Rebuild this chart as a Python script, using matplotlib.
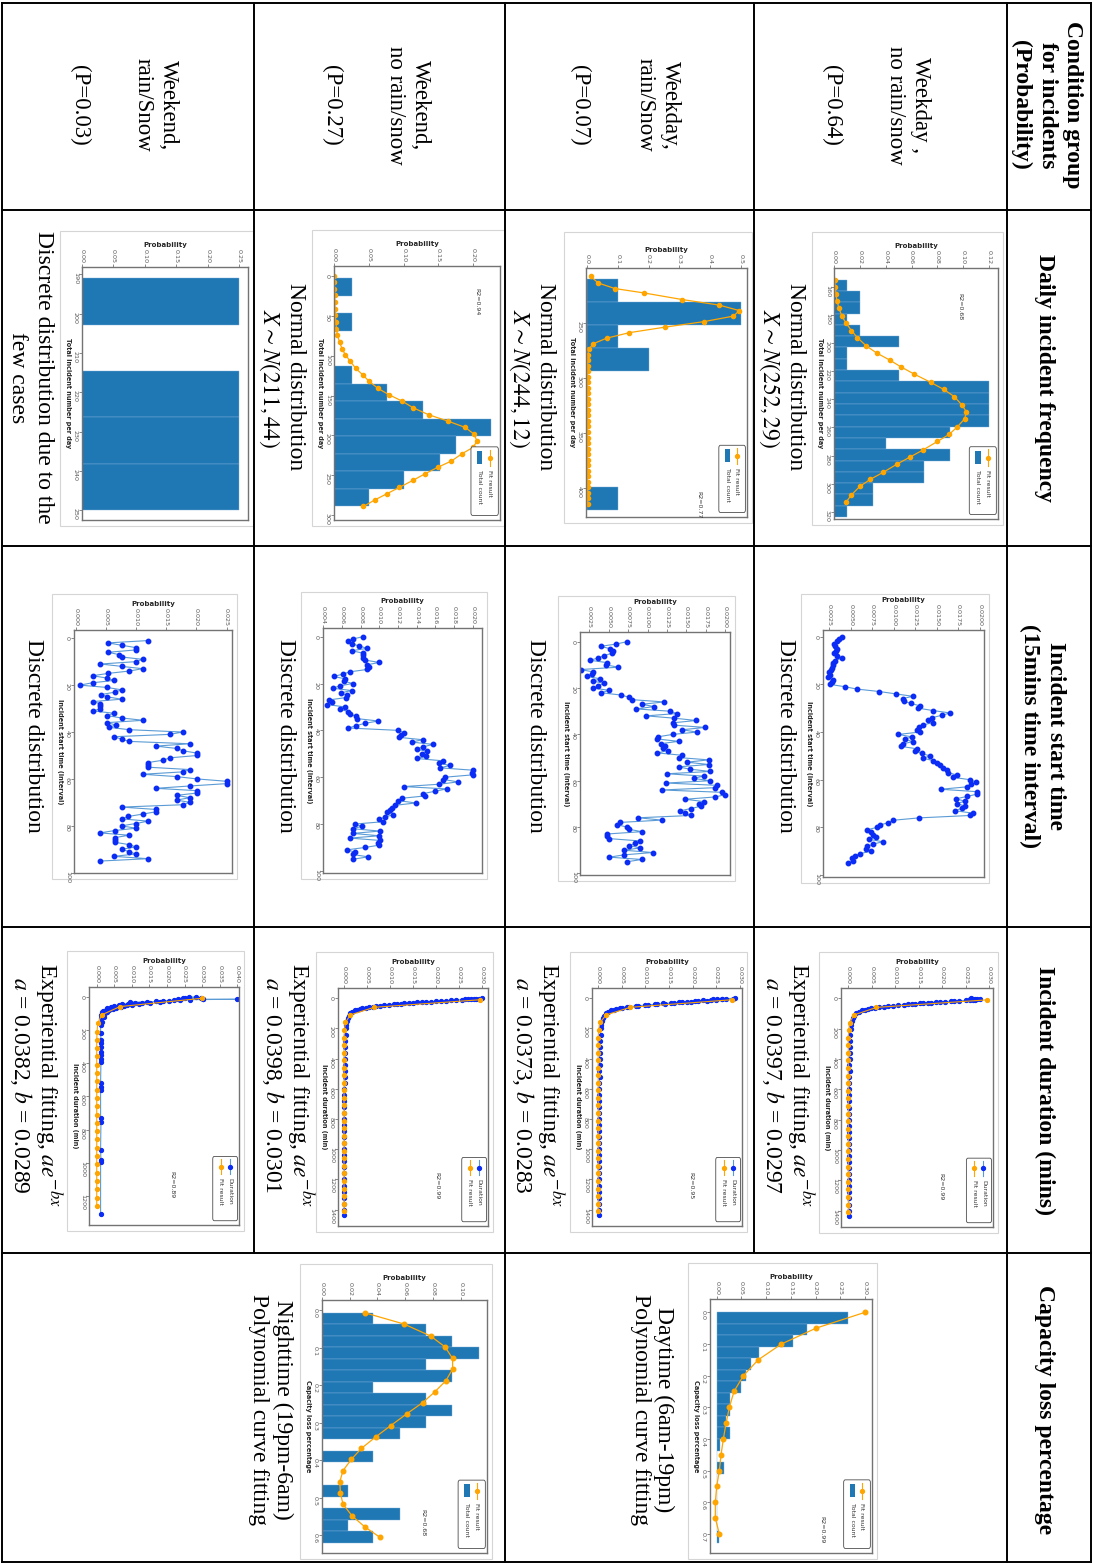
import numpy as np
import matplotlib
matplotlib.use("Agg")
import matplotlib.pyplot as plt
from matplotlib.patches import Rectangle, FancyBboxPatch
from matplotlib.lines import Line2D

W, H = 1093, 1564
SERIF = ["Liberation Serif", "DejaVu Serif"]
plt.rcParams["mathtext.fontset"] = "stix"

BLUE = "#1f77b4"
ORANGE = "#ffa500"
DOT = "#0b2cf5"
LINEBLUE = "#5b9bd5"

# ---------------- table text ----------------
cond_line1 = ["Weekday ,", "Weekday,", "Weekend,", "Weekend,"]
cond_line2 = ["no rain/snow", "rain/Snow", "no rain/snow", "rain/Snow"]
cond_prob = ["(P=0.64)", "(P=0.07)", "(P=0.27)", "(P=0.03)"]
daily_caption1 = ["Normal distribution", "Normal distribution", "Normal distribution",
                  "Discrete distribution due to the"]
daily_caption2 = [r"$X{\sim}N(252, 29)$", r"$X{\sim}N(244, 12)$", r"$X{\sim}N(211, 44)$", "few cases"]
dur_a = ["0.0397", "0.0373", "0.0398", "0.0382"]
dur_b = ["0.0297", "0.0283", "0.0301", "0.0289"]

# ---------------- daily incident frequency ----------------
d1_left = [154.8, 162.85, 170.9, 178.95, 187.0, 195.05, 203.1, 211.15, 219.2, 227.25, 235.3,
           243.35, 251.4, 259.45, 267.5, 275.55, 283.6, 291.65, 299.7, 307.75, 315.8]
d1_prob = [0.01, 0.02, 0.02, 0.01, 0.02, 0.05, 0.01, 0.01, 0.05, 0.12, 0.12,
           0.12, 0.12, 0.09, 0.04, 0.09, 0.07, 0.07, 0.03, 0.03, 0.01]
f1_x = [155, 160, 165, 170, 175, 181, 186, 191, 196, 202, 207, 212, 217, 222, 228, 233,
        238, 244, 249, 254, 260, 265, 270, 276, 281, 286, 292, 297, 302, 308, 313]
f1_p = [0.0005, 0.001, 0.0014, 0.0023, 0.0038, 0.0062, 0.0095, 0.0135, 0.018, 0.025, 0.033,
        0.043, 0.052, 0.062, 0.075, 0.085, 0.093, 0.099, 0.1025, 0.101, 0.095, 0.089, 0.080,
        0.069, 0.059, 0.049, 0.038, 0.028, 0.020, 0.0135, 0.0095]

d2_left = [210, 231, 252, 273, 294, 315, 336, 357, 378, 399]
d2_prob = [0.1, 0.5, 0.1, 0.2, 0, 0, 0, 0, 0, 0.1]
f2_x = [208, 214, 219, 223, 229, 234, 239, 244, 249, 254, 259, 264, 269, 274, 279, 284, 289,
        294, 299, 304, 309, 314, 319, 324, 329, 334, 339, 344, 349, 354, 359, 364, 369, 374,
        379, 384, 389, 394, 399, 404, 409, 414]
f2_p = [0.011, 0.036, 0.09, 0.185, 0.31, 0.43, 0.496, 0.476, 0.38, 0.253, 0.137, 0.063, 0.02,
        0.005, 0.002, 0.001, 0.001, 0.001, 0.001, 0.001, 0.001, 0.001, 0.001, 0.001, 0.001,
        0.001, 0.001, 0.001, 0.001, 0.001, 0.001, 0.001, 0.001, 0.001, 0.001, 0.001, 0.001,
        0.001, 0.001, 0.001, 0.001, 0.001]

d3_left = [3, 25, 47, 69, 91, 113, 135, 157, 179, 201, 223, 245, 267]
d3_prob = [0.025, 0, 0.025, 0, 0, 0.025, 0.076, 0.128, 0.226, 0.176, 0.152, 0.10, 0.05]
f3_x = [0, 8, 16, 24, 33, 41, 49, 58, 66, 74, 83, 91, 99, 107, 116, 124, 132, 141, 149, 157,
        165, 174, 182, 190, 198, 207, 215, 223, 232, 240, 248, 256, 265, 273, 281, 289]
f3_p = [0.0, 0.0, 0.0, 0.0005, 0.0007, 0.001, 0.0015, 0.002, 0.003, 0.0045, 0.0075, 0.011,
        0.016, 0.023, 0.031, 0.041, 0.050, 0.063, 0.079, 0.098, 0.113, 0.136, 0.164, 0.189,
        0.201, 0.206, 0.200, 0.184, 0.169, 0.149, 0.131, 0.114, 0.094, 0.076, 0.058, 0.042]

d4_left = [191, 202.8, 214.6, 226.4, 238.2]
d4_prob = [0.25, 0, 0.25, 0.25, 0.25]

# ---------------- incident start time (values in 1e-4) ----------------
st1 = [39.3, 36.6, 34.3, 30.4, 31.6, 33.5, 32.7, 30.4, 34.3, 39.3,
       31.6, 28.9, 28.9, 27.7, 26.5, 25.0, 25.8, 23.8, 28.9, 27.7,
       25.8, 43.2, 57.5, 83.1, 102.4, 121.8, 110.2, 111.7, 119.5, 130.3,
       128.4, 145.8, 165.2, 155.5, 143.9, 140.0, 145.8, 134.2, 129.5, 126.4,
       130.3, 105.1, 120.6, 112.9, 121.8, 110.2, 107.8, 126.4, 124.5, 132.2,
       141.9, 134.2, 145.8, 149.7, 153.5, 157.4, 161.3, 163.2, 172.9, 169.0,
       188.4, 195.4, 189.2, 184.5, 154.3, 196.1, 196.9, 185.3, 172.1, 182.6,
       172.9, 182.6, 178.7, 170.9, 191.5, 188.4, 129.5, 99.3, 93.5, 83.8,
       80.0, 69.1, 73.0, 75.3, 79.2, 71.5, 86.9, 76.1, 69.1, 67.6,
       73.0, 60.6, 54.8, 50.9, 52.9, 47.1]
st2 = [73.2, 59.4, 39.6, 51.7, 55.1, 53.8, 43.9, 36.6, 25.9, 47.4,
       46.5, 62.4, 13.8, 29.3, 28.0, 22.4, 38.8, 30.2, 43.9, 36.6,
       30.2, 50.8, 39.6, 65.4, 76.6, 79.6, 121.3, 92.5, 108.4, 85.2,
       129.1, 137.7, 98.1, 134.2, 162.6, 132.5, 133.4, 174.2, 144.1, 163.5,
       132.5, 114.0, 112.7, 139.8, 117.0, 122.6, 119.6, 125.6, 112.7, 144.1,
       139.8, 178.5, 150.6, 178.5, 139.8, 154.0, 180.7, 124.8, 172.1, 159.2,
       180.7, 123.9, 189.3, 187.1, 118.3, 195.7, 200.0, 187.1, 148.4, 172.1,
       165.6, 168.6, 155.7, 142.0, 148.4, 155.7, 88.2, 118.3, 64.6, 61.1,
       73.2, 76.6, 92.5, 47.4, 47.4, 50.8, 90.4, 83.9, 76.6, 90.4,
       69.7, 106.7, 69.7, 50.8, 92.5, 73.2]
st3 = [82.8, 71.4, 66.8, 70.3, 78.6, 87.1, 70.3, 82.1, 82.8, 82.1,
       84.6, 100.0, 87.1, 89.3, 87.1, 68.6, 60.7, 51.4, 63.2, 62.1,
       71.4, 57.9, 50.0, 70.3, 58.6, 65.0, 64.3, 46.4, 48.9, 44.3,
       63.2, 57.9, 66.8, 68.6, 75.0, 76.4, 98.9, 84.6, 75.0, 66.8,
       120.3, 126.4, 122.8, 121.4, 146.4, 134.6, 157.8, 147.1, 140.0, 151.4,
       145.3, 150.0, 140.0, 167.8, 164.2, 175.7, 165.0, 199.9, 198.9, 199.9,
       170.3, 168.5, 184.6, 164.2, 126.4, 172.1, 159.6, 147.1, 148.9, 123.9,
       120.3, 139.2, 116.8, 113.2, 111.4, 108.5, 115.0, 106.0, 100.0, 104.3,
       73.9, 81.1, 71.4, 100.7, 71.4, 100.0, 68.6, 100.7, 98.9, 100.0,
       84.6, 65.7, 73.9, 71.4, 88.2, 72.1]
st4 = [120.0, 53.6, 75.8, 99.5, 99.5, 53.6, 71.9, 75.8, 110.6, 99.5,
       40.9, 75.8, 110.6, 88.5, 53.6, 27.7, 52.0, 63.0, 27.7, 6.6,
       52.0, 75.8, 64.7, 42.6, 52.0, 75.8, 28.8, 40.9, 40.9, 40.9,
       28.8, 63.0, 52.0, 75.8, 111.7, 52.0, 66.4, 55.3, 88.5, 177.0,
       155.9, 63.0, 75.8, 88.5, 189.1, 132.7, 167.0, 178.1, 201.3, 201.3,
       155.9, 144.9, 120.0, 120.0, 120.0, 189.1, 177.0, 110.6, 167.0, 201.3,
       250.0, 250.0, 189.1, 132.7, 201.3, 201.3, 167.0, 189.1, 167.0, 189.1,
       177.0, 75.8, 132.7, 132.7, 110.6, 86.8, 75.8, 120.0, 99.5, 75.8,
       99.5, 64.7, 39.8, 88.5, 64.7, 64.7, 64.7, 88.5, 99.5, 75.8,
       88.5, 99.5, 63.0, 120.0, 40.9]
st_first = [0, 0, 0, 1]   # first interval index of each series

# ---------------- incident duration ----------------
dur_x = [1, 2, 3, 4, 5, 6, 8, 10, 12, 14, 16, 18, 20, 22, 24, 26, 28, 30, 32, 34, 36, 38, 40,
         43, 46, 49, 52, 55, 58, 62, 66, 70, 75, 80, 90, 100, 115, 130, 150, 175, 200,
         240, 280, 320, 360, 400, 440, 480, 520, 560, 600, 640, 680, 720, 760, 800, 840, 880,
         920, 960, 1000, 1040, 1080, 1120, 1160, 1200, 1240, 1280, 1320, 1360, 1400, 1435]
dur1_p = [0.0262, 0.0275, 0.0258, 0.0270, 0.0281, 0.0266, 0.0270, 0.0265, 0.0258, 0.0250,
          0.0236, 0.0224, 0.0218, 0.0205, 0.0196, 0.0187, 0.0177, 0.0170, 0.0160, 0.0152,
          0.0143, 0.0136, 0.0128, 0.0118, 0.0106, 0.0095, 0.0085, 0.0075, 0.0066, 0.0057,
          0.0049, 0.0042, 0.0035, 0.0029, 0.0022, 0.0017, 0.0013, 0.0010, 0.0008, 0.0006,
          0.0005, 0.0004, 0.0004, 0.0003, 0.0003, 0.0003, 0.0002, 0.0003, 0.0002, 0.0002,
          0.0002, 0.0001, 0.0002, 0.0001, 0.0001, 0.0002, 0.0001, 0.0001, 0.0001, 0.0001,
          0.0001, 0.0001, 0.0001, 0.0001, 0.0001, 0.0001, 0.0001, 0.0001, 0.0001, 0.0001,
          0.0001, 0.0001]
dur2_p = [0.0290, 0.0262, 0.0284, 0.0251, 0.0270, 0.0243, 0.0262, 0.0238, 0.0249, 0.0221,
          0.0230, 0.0205, 0.0212, 0.0188, 0.0196, 0.0171, 0.0178, 0.0155, 0.0160, 0.0138,
          0.0142, 0.0121, 0.0125, 0.0106, 0.0098, 0.0085, 0.0079, 0.0066, 0.0061, 0.0050,
          0.0046, 0.0038, 0.0033, 0.0027, 0.0021, 0.0017, 0.0013, 0.0011, 0.0008, 0.0006,
          0.0005, 0.0005, 0.0004, 0.0004, 0.0003, 0.0003, 0.0003, 0.0002, 0.0003, 0.0002,
          0.0002, 0.0002, 0.0001, 0.0002, 0.0001, 0.0001, 0.0001, 0.0001, 0.0001, 0.0001,
          0.0001, 0.0001, 0.0001, 0.0001, 0.0001, 0.0001, 0.0001, 0.0001, 0.0001, 0.0001,
          0.0001, 0.0001]
dur3_p = [0.0300, 0.0285, 0.0292, 0.0276, 0.0281, 0.0268, 0.0262, 0.0255, 0.0243, 0.0232,
          0.0220, 0.0210, 0.0199, 0.0188, 0.0178, 0.0168, 0.0158, 0.0149, 0.0140, 0.0131,
          0.0123, 0.0115, 0.0108, 0.0097, 0.0087, 0.0078, 0.0070, 0.0062, 0.0055, 0.0047,
          0.0040, 0.0034, 0.0028, 0.0023, 0.0017, 0.0013, 0.0010, 0.0008, 0.0006, 0.0005,
          0.0004, 0.0004, 0.0003, 0.0003, 0.0003, 0.0002, 0.0002, 0.0002, 0.0002, 0.0002,
          0.0001, 0.0001, 0.0001, 0.0001, 0.0001, 0.0001, 0.0001, 0.0001, 0.0001, 0.0001,
          0.0001, 0.0001, 0.0001, 0.0001, 0.0001, 0.0001, 0.0001, 0.0001, 0.0001, 0.0001,
          0.0001, 0.0001]
dur4_x = [2, 4, 6, 8, 10, 12, 14, 16, 16, 18, 20, 22, 24, 26, 28, 30, 32, 34, 36, 38, 40, 42,
          44, 46, 48, 50, 52, 55, 58, 61, 64, 67, 70, 74, 78, 82, 86, 90, 95, 100, 110, 120,
          130, 150, 171, 221, 261, 281, 305, 331, 351, 377, 391, 522, 542, 562, 733, 753, 924,
          984, 994, 1311]
dur4_p = [0.0284, 0.0262, 0.0298, 0.0250, 0.0246, 0.0230, 0.0303, 0.0303, 0.0400, 0.0265,
          0.0220, 0.0236, 0.0190, 0.0205, 0.0170, 0.0180, 0.0142, 0.0095, 0.0128, 0.0110,
          0.0152, 0.0088, 0.0120, 0.0072, 0.0100, 0.0085, 0.0062, 0.0078, 0.0048, 0.0068,
          0.0040, 0.0055, 0.0030, 0.0045, 0.0025, 0.0036, 0.0018, 0.0030, 0.0014, 0.0024,
          0.0012, 0.0020, 0.0011, 0.0015, 0.0011, 0.0011, 0.0012, 0.0011, 0.0012, 0.0011,
          0.0012, 0.0011, 0.0012, 0.0011, 0.0012, 0.0011, 0.0011, 0.0012, 0.0011, 0.0012,
          0.0011, 0.0011]
fit_x = [10, 60, 110, 160, 210, 260, 310, 360, 410, 460, 510, 560, 610, 660, 710, 760, 810,
         860, 910, 960, 1010, 1060, 1110, 1160, 1210, 1260, 1310, 1360, 1410]
fit1_p = [0.0296, 0.0060, 0.0012, 0.0003, 0.0001, 0, 0, 0, 0, 0, 0, 0, 0, 0, 0, 0, 0, 0, 0,
          0, 0, 0, 0, 0, 0, 0, 0, 0, 0]
fit2_p = [0.0282, 0.0068, 0.0017, 0.0004, 0.0001, 0, 0, 0, 0, 0, 0, 0, 0, 0, 0, 0, 0, 0, 0,
          0, 0, 0, 0, 0, 0, 0, 0, 0, 0]
fit3_p = [0.0294, 0.0065, 0.0014, 0.0003, 0.0001, 0, 0, 0, 0, 0, 0, 0, 0, 0, 0, 0, 0, 0, 0,
          0, 0, 0, 0, 0, 0, 0, 0, 0, 0]
fit4_p = [0.0300, 0.0066, 0.0014, 0.0003, 0.0001, 0, 0, 0, 0, 0, 0, 0, 0, 0, 0, 0, 0, 0, 0,
          0, 0, 0, 0, 0, 0, 0]

# ---------------- capacity loss ----------------
cap_day_left = [0.0, 0.0364, 0.0727, 0.1091, 0.1455, 0.1818, 0.2182, 0.2545, 0.2909, 0.3273,
                0.3636, 0.4, 0.4364, 0.4727, 0.5091, 0.5455, 0.5818, 0.6182, 0.6545, 0.6909]
cap_day_prob = [0.265, 0.182, 0.154, 0.086, 0.069, 0.059, 0.049, 0.027, 0.027, 0.019, 0.027,
                0.007, 0, 0.015, 0, 0, 0, 0, 0, 0.0054]
cap_day_fx = [0.0, 0.05, 0.1, 0.15, 0.2, 0.25, 0.3, 0.35, 0.4, 0.45, 0.5, 0.55, 0.6, 0.65, 0.7]
cap_day_fp = [0.30, 0.201, 0.131, 0.084, 0.054, 0.035, 0.0256, 0.019, 0.0135, 0.0088, 0.0054,
              0.0, -0.0027, -0.0027, 0.0054]
cap_night_left = [0.007, 0.0377, 0.0684, 0.0991, 0.1298, 0.1605, 0.1912, 0.2219, 0.2526,
                  0.2833, 0.314, 0.3447, 0.3754, 0.4061, 0.4368, 0.4675, 0.4982, 0.5289,
                  0.5596, 0.5903]
cap_night_prob = [0.037, 0.075, 0.094, 0.113, 0.075, 0.094, 0.037, 0.075, 0.094, 0.075, 0.056,
                  0, 0.037, 0, 0, 0.019, 0, 0.056, 0.019, 0.037]
cap_night_fx = [0.007, 0.037, 0.069, 0.098, 0.129, 0.157, 0.188, 0.218, 0.247, 0.277, 0.308,
                0.338, 0.369, 0.398, 0.428, 0.458, 0.489, 0.518, 0.549, 0.578, 0.606]
cap_night_fp = [0.0308, 0.059, 0.0783, 0.0887, 0.0942, 0.0942, 0.0894, 0.0814, 0.0725, 0.061,
                0.0496, 0.0388, 0.0284, 0.0212, 0.0152, 0.0128, 0.0133, 0.0152, 0.0217,
                0.0308, 0.0417]


def px_axes(fig, box):
    x0, y0, x1, y1 = box
    return fig.add_axes([x0 / W, 1 - y1 / H, (x1 - x0) / W, (y1 - y0) / H])


def style(ax, xlim, ylim, xticks, xfmt, yticks, yfmt, ylabel):
    ax.set_xlim(xlim)
    ax.set_ylim(ylim)
    ax.xaxis.tick_top()
    ax.xaxis.set_label_position("top")
    ax.set_xticks(xticks, [xfmt % t for t in xticks])
    ax.set_yticks(yticks, [yfmt % t for t in yticks])
    ax.tick_params(length=2, width=0.5, pad=1, labelsize=4.6, colors="0.35")
    ax.tick_params(axis="x", labelrotation=-90)
    ax.tick_params(axis="y", labelrotation=-90)
    ax.set_xlabel("Probability", fontsize=5, fontweight="bold", labelpad=1.5, color="0.15")
    ax.set_ylabel(ylabel, fontsize=4.7, fontweight="bold", rotation=270, va="top",
                  labelpad=1.5, color="0.15")
    for sp in ax.spines.values():
        sp.set_color("0.45")
        sp.set_linewidth(1.0)


def legend_box(ax, items):
    x0, y0, w, h = 0.825, 0.018, 0.165, 0.27
    ax.add_patch(FancyBboxPatch((x0, y0), w, h, boxstyle="round,pad=0,rounding_size=0.01",
                                transform=ax.transAxes, fc="white", ec="0.3", lw=0.6,
                                zorder=6, clip_on=False))
    for i, (kind, col, mcol, label) in enumerate(items):
        cx = x0 + w * (0.68 - 0.36 * i)
        top, bot = y0 + h * 0.96, y0 + h * 0.72
        if kind == "line":
            ax.add_line(Line2D([cx, cx], [top, bot], color=col, lw=0.8,
                               transform=ax.transAxes, zorder=7))
            ax.add_line(Line2D([cx], [(top + bot) / 2], marker="o", ms=2.8, color=mcol,
                               transform=ax.transAxes, zorder=7))
        else:
            ax.add_patch(Rectangle((cx - w * 0.1, bot + h * 0.03), w * 0.2, (top - bot) * 0.8,
                                   transform=ax.transAxes, fc=col, ec="none", zorder=7))
        ax.text(cx, y0 + h * 0.66, label, rotation=270, rotation_mode="anchor", ha="left",
                va="center", fontsize=4.4, transform=ax.transAxes, zorder=7, color="0.2")


def r2(ax, x, y, s):
    ax.text(x, y, s, rotation=270, fontsize=4.5, transform=ax.transAxes, ha="center",
            va="center", color="0.2")


fig = plt.figure(figsize=(W / 100, H / 100), dpi=100)
bg = fig.add_axes([0, 0, 1, 1])
bg.set_xlim(0, W)
bg.set_ylim(H, 0)
bg.axis("off")

# table grid
lk = dict(color="black", lw=1.4)
for y in [3, 210, 546, 927, 1253, 1562]:
    bg.plot([2, 1091], [y, y], **lk)
for x in [2, 505, 1007, 1091]:
    bg.plot([x, x], [3, 1562], **lk)
for x in [254, 754]:
    bg.plot([x, x], [3, 1253], **lk)


def t(x, y, s, size=17, bold=False):
    bg.text(x, y, s, rotation=270, ha="center", va="center", fontsize=size,
            family=SERIF, fontweight="bold" if bold else "normal")


t(1073, 105, "Condition group", bold=True)
t(1047, 105, "for incidents", bold=True)
t(1021, 105, "(Probability)", bold=True)
t(1045, 378, "Daily incident frequency", bold=True)
t(1056, 736, "Incident start time", bold=True)
t(1030, 736, "(15mins time interval)", bold=True)
t(1045, 1090, "Incident duration (mins)", bold=True)
t(1045, 1410, "Capacity loss percentage", bold=True)

row_x = [0, -250, -500, -752]
for i in range(4):
    dx = row_x[i]
    t(920 + dx, 105, cond_line1[i], size=16.5)
    t(895 + dx, 105, cond_line2[i], size=16.5)
    t(832 + dx - (2 if i == 1 else 0), 105, cond_prob[i], size=16.5)
    t(795 + dx, 377, daily_caption1[i])
    t(769 + dx, 378, daily_caption2[i])
    t(785 + dx, 736, "Discrete distribution")
    t(800 + dx, 1085, r"Experiential fitting, $ae^{-bx}$")
    t(773 + dx, 1085, r"$a$ = %s, $b$ = %s" % (dur_a[i], dur_b[i]))
t(664, 1410, "Daytime (6am-19pm)")
t(640, 1410, "Polynomial curve fitting")
t(283, 1410, "Nighttime (19pm-6am)")
t(258, 1410, "Polynomial curve fitting")


def frame_border(box):
    x0, y0, x1, y1 = box
    bg.add_patch(Rectangle((x0 - 22, y0 - 36), (x1 - x0) + 27, (y1 - y0) + 42, fill=False,
                           ec="#d5d5d5", lw=0.8))


bar_kw = dict(align="edge", color=BLUE, ec="#7fb0dc", lw=0.3)
fit_kw = dict(color=ORANGE, lw=0.9, marker="o", ms=3)
bar_legend = [("line", ORANGE, ORANGE, "Fit result"), ("bar", BLUE, None, "Total count")]
ylab_daily = "Total incident number per day"

# daily charts
box = (834, 268, 998, 519)
frame_border(box)
ax = px_axes(fig, box)
ax.barh(d1_left, d1_prob, height=8.05, **bar_kw)
ax.plot(f1_p, f1_x, **fit_kw)
style(ax, (0, 0.1269), (325.2, 146.5), [0, 0.02, 0.04, 0.06, 0.08, 0.10, 0.12], "%.2f",
      [160, 180, 200, 220, 240, 260, 280, 300, 320], "%d", ylab_daily)
r2(ax, 0.77, 0.845, "R2=0.68")
legend_box(ax, bar_legend)

box = (586, 268, 747, 517)
frame_border(box)
ax = px_axes(fig, box)
ax.barh(d2_left, d2_prob, height=21, **bar_kw)
ax.plot(f2_p, f2_x, **fit_kw)
style(ax, (-0.004, 0.5206), (426, 200.4), [0, 0.1, 0.2, 0.3, 0.4, 0.5], "%.1f",
      [250, 300, 350, 400], "%d", ylab_daily)
r2(ax, 0.70, 0.05, "R2=0.77")
legend_box(ax, bar_legend)

box = (334, 266, 500, 520)
frame_border(box)
ax = px_axes(fig, box)
ax.barh(d3_left, d3_prob, height=22, **bar_kw)
ax.plot(f3_p, f3_x, **fit_kw)
style(ax, (-0.0005, 0.239), (306, -12.5), [0, 0.05, 0.10, 0.15, 0.20], "%.2f",
      [0, 50, 100, 150, 200, 250, 300], "%d", ylab_daily)
r2(ax, 0.86, 0.86, "R2=0.94")
legend_box(ax, bar_legend)

box = (82, 267, 248, 520)
frame_border(box)
ax = px_axes(fig, box)
ax.barh(d4_left, d4_prob, height=11.8, **bar_kw)
style(ax, (0, 0.264), (252.5, 188.1), [0, 0.05, 0.10, 0.15, 0.20, 0.25], "%.2f",
      [190, 200, 210, 220, 230, 240, 250], "%d", ylab_daily)

# start time charts
st_series = [st1, st2, st3, st4]
st_boxes = [(823, 630, 984, 877), (580, 632, 730, 875), (323, 628, 482, 873), (74, 630, 232, 873)]
st_xlim = [(0.00177, 0.02047), (0.0013, 0.0206), (0.00397, 0.0210), (-0.0003, 0.0259)]
st_ylim = [(100.8, -2.8), (100.7, -4.2), (100.9, -3.7), (100.1, -3.5)]
st_ticks = [[0.0025, 0.005, 0.0075, 0.01, 0.0125, 0.015, 0.0175, 0.02],
            [0.0025, 0.005, 0.0075, 0.01, 0.0125, 0.015, 0.0175, 0.02],
            [0.004, 0.006, 0.008, 0.010, 0.012, 0.014, 0.016, 0.018, 0.020],
            [0, 0.005, 0.010, 0.015, 0.020, 0.025]]
st_fmt = ["%.4f", "%.4f", "%.3f", "%.3f"]
for k in range(4):
    box = st_boxes[k]
    frame_border(box)
    ax = px_axes(fig, box)
    vals = np.array(st_series[k]) / 1e4
    idx = np.arange(st_first[k], st_first[k] + len(vals))
    ax.plot(vals, idx, color=LINEBLUE, lw=0.8, marker="o", ms=3.2, mfc=DOT, mec=DOT)
    style(ax, st_xlim[k], st_ylim[k], st_ticks[k], st_fmt[k], [0, 20, 40, 60, 80, 100], "%d",
          "Incident start time (interval)")

# duration charts
dur_series = [(dur_x, dur1_p, fit_x, fit1_p), (dur_x, dur2_p, fit_x, fit2_p),
              (dur_x, dur3_p, fit_x, fit3_p), (dur4_x, dur4_p, fit_x[:26], fit4_p)]
dur_boxes = [(841, 988, 993, 1227), (592, 988, 742, 1226), (338, 988, 488, 1226),
             (89, 987, 239, 1225)]
dur_xlim = [(-0.00155, 0.0308), (-0.0013, 0.0304), (-0.0013, 0.0312), (-0.0022, 0.0405)]
dur_ylim = [(1508, -68), (1508, -68), (1508, -68), (1375, -58)]
dur_ticks = [[0, 0.005, 0.010, 0.015, 0.020, 0.025, 0.030]] * 3 + \
            [[0, 0.005, 0.010, 0.015, 0.020, 0.025, 0.030, 0.035, 0.040]]
dur_yt = [[0, 200, 400, 600, 800, 1000, 1200, 1400]] * 3 + [[0, 200, 400, 600, 800, 1000, 1200]]
dur_r2 = ["R2=0.99", "R2=0.95", "R2=0.99", "R2=0.89"]
dur_legend = [("line", LINEBLUE, DOT, "Duration"), ("line", ORANGE, ORANGE, "Fit result")]
for k in range(4):
    box = dur_boxes[k]
    frame_border(box)
    ax = px_axes(fig, box)
    dx, dp, fx, fp = dur_series[k]
    ax.plot(dp, dx, color=LINEBLUE, lw=0.8, marker="o", ms=2.8, mfc=DOT, mec=DOT)
    ax.plot(fp, fx, color=ORANGE, lw=0.8, marker="o", ms=2.8)
    style(ax, dur_xlim[k], dur_ylim[k], dur_ticks[k], "%.3f", dur_yt[k], "%d",
          "Incident duration (min)")
    r2(ax, 0.66 if k < 3 else 0.55, 0.17, dur_r2[k])
    legend_box(ax, dur_legend)

# capacity loss charts
box = (710, 1299, 872, 1553)
frame_border(box)
ax = px_axes(fig, box)
ax.barh(cap_day_left, cap_day_prob, height=0.0364, **bar_kw)
ax.plot(cap_day_fp, cap_day_fx, color=ORANGE, lw=0.9, marker="o", ms=3.3)
style(ax, (-0.0135, 0.314), (0.76, -0.042), [0, 0.05, 0.10, 0.15, 0.20, 0.25, 0.30], "%.2f",
      [0, 0.1, 0.2, 0.3, 0.4, 0.5, 0.6, 0.7], "%.1f", "Capacity loss percentage")
r2(ax, 0.69, 0.09, "R2=0.99")
legend_box(ax, bar_legend)

box = (322, 1300, 487, 1553)
frame_border(box)
ax = px_axes(fig, box)
ax.barh(cap_night_left, cap_night_prob, height=0.0307, **bar_kw)
ax.plot(cap_night_fp, cap_night_fx, color=ORANGE, lw=0.9, marker="o", ms=3.3)
style(ax, (0, 0.119), (0.648, -0.027), [0, 0.02, 0.04, 0.06, 0.08, 0.10], "%.2f",
      [0, 0.1, 0.2, 0.3, 0.4, 0.5, 0.6], "%.1f", "Capacity loss percentage")
r2(ax, 0.61, 0.12, "R2=0.68")
legend_box(ax, bar_legend)

fig.savefig("out.png", dpi=100)
